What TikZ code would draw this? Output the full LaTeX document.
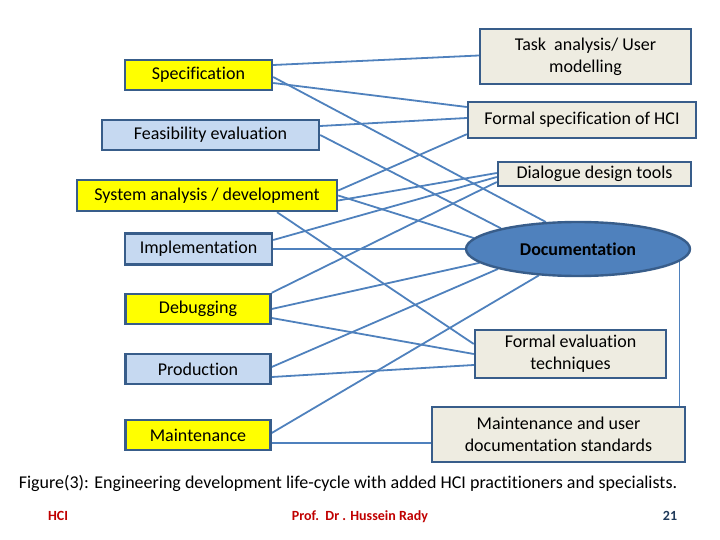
\documentclass[tikz,border=0pt]{standalone}
\usepackage{fontspec}
\setmainfont{Carlito}[Ligatures=NoCommon]
\usetikzlibrary{positioning,calc,backgrounds,shapes.geometric}

\definecolor{boxline}{HTML}{385D8A}
\definecolor{linkblue}{HTML}{4F81BD}
\definecolor{phaseyellow}{HTML}{FFFF00}
\definecolor{phaseblue}{HTML}{C6D9F1}
\definecolor{hcibeige}{HTML}{EEECE1}
\definecolor{footred}{HTML}{C00000}
\definecolor{footgray}{HTML}{1F3A5A}

\begin{document}
\begin{tikzpicture}[
  x=1pt, y=-1pt,
  font=\fontsize{18}{22}\selectfont,
  phase/.style={draw=boxline, line width=2.4pt, inner sep=0pt, align=center},
  ylw/.style={phase, fill=phaseyellow},
  blu/.style={phase, fill=phaseblue},
  hci/.style={draw=boxline, line width=2.4pt, fill=hcibeige, inner sep=0pt,
              align=center},
  docu/.style={ellipse, draw=boxline, line width=2.4pt, fill=linkblue,
               inner sep=0pt, minimum width=224pt, minimum height=54pt,
               font=\fontsize{18}{22}\selectfont\bfseries},
  link/.style={draw=linkblue, line width=1.8pt},
  foot/.style={anchor=base, font=\fontsize{14}{16}\selectfont\bfseries}
]
\useasboundingbox (0,0) rectangle (720,540);

% ---------- fase pengembangan (kiri) ----------
\node[ylw, minimum width=147pt, minimum height=30pt] (spec)  at (198.5,75)  {Specification};
\node[blu, minimum width=217pt, minimum height=30pt] (feas)  at (210.5,135) {Feasibility evaluation};
\node[ylw, minimum width=260pt, minimum height=31pt] (sysan) at (207,195.5) {System analysis / development};
\node[blu, minimum width=147pt, minimum height=31pt] (impl)  at (198.5,249) {Implementation};
\node[ylw, minimum width=145pt, minimum height=30pt] (debug) at (198,309)   {Debugging};
\node[blu, minimum width=145pt, minimum height=30pt] (prod)  at (198,369)   {Production};
\node[ylw, minimum width=145pt, minimum height=30pt] (maint) at (198,435)   {Maintenance};

% ---------- kontribusi HCI (kanan) ----------
\node[hci, minimum width=211pt, minimum height=55pt] (task)  at (585.5,56.5) {Task\ \ analysis/ User\\modelling};
\node[hci, minimum width=228pt, minimum height=36pt] (fspec) at (582,120)    {Formal specification of HCI};
\node[hci, minimum width=193pt, minimum height=24pt] (dlg)   at (594.5,174)  {Dialogue design tools};
\node[docu]                                          (doc)   at (578,249)    {Documentation};
\node[hci, minimum width=191pt, minimum height=48pt] (feval) at (570.5,354)  {Formal evaluation\\techniques};
\node[hci, minimum width=253pt, minimum height=55pt] (mstd)  at (558.5,434.5) {Maintenance and user\\documentation standards};

% ---------- garis penghubung ----------
\begin{scope}[on background layer]
  % specification
  \draw[link] ($(spec.east)+(0,-10)$) -- ($(task.west)+(0,-1)$);
  \draw[link] ($(spec.east)+(0,2)$)   -- (doc.140);
  \draw[link] ($(spec.east)+(0,8)$)   -- ($(fspec.west)+(0,-13)$);
  % feasibility
  \draw[link] ($(feas.east)+(0,-9)$)  -- ($(fspec.west)+(0,-2)$);
  \draw[link] (feas.east)             -- (doc.165);
  % system analysis
  \draw[link] ($(sysan.east)+(0,-5)$) -- ($(fspec.south west)+(0,-5)$);
  \draw[link] ($(sysan.east)+(0,0)$)  -- (doc.174);
  \draw[link] ($(sysan.east)+(0,5)$)  -- ($(dlg.west)+(0,-1)$);
  \draw[link] ($(sysan.south)+(70,0)$) -- ($(feval.west)+(0,-10)$);
  % implementation
  \draw[link] ($(impl.east)+(0,-9)$)  -- ($(dlg.west)+(0,3)$);
  \draw[link] (impl.east)             -- (doc.west);
  % debugging
  \draw[link] (debug.north east)      -- ($(dlg.west)+(0,8)$);
  \draw[link] (debug.east)            -- (doc.188);
  \draw[link] ($(debug.east)+(0,9)$)  -- (feval.west);
  % production
  \draw[link] ($(prod.east)+(0,-2)$)  -- (doc.194);
  \draw[link] ($(prod.east)+(0,8)$)   -- ($(feval.west)+(0,11)$);
  % maintenance
  \draw[link] ($(maint.east)+(0,-2)$) -- (doc.214);
  \draw[link] ($(maint.east)+(0,8)$)  -- ($(mstd.west)+(0,8.5)$);
  % documentation -> standards
  \draw[link] (doc.-7) -- (doc.-7 |- mstd.north);
\end{scope}

% ---------- keterangan & footer ----------
\node (cap) at (348,483) {Figure(3): Engineering development life-cycle with added HCI practitioners and specialists.};
\node[foot, text=footred]  (fhci)  at (58,520)  {HCI};
\node[foot, text=footred]  (fprof) at (360,520) {Prof.\ \ Dr . Hussein Rady};
\node[foot, text=footgray] (fpage) at (670,520) {21};

\end{tikzpicture}
\end{document}
